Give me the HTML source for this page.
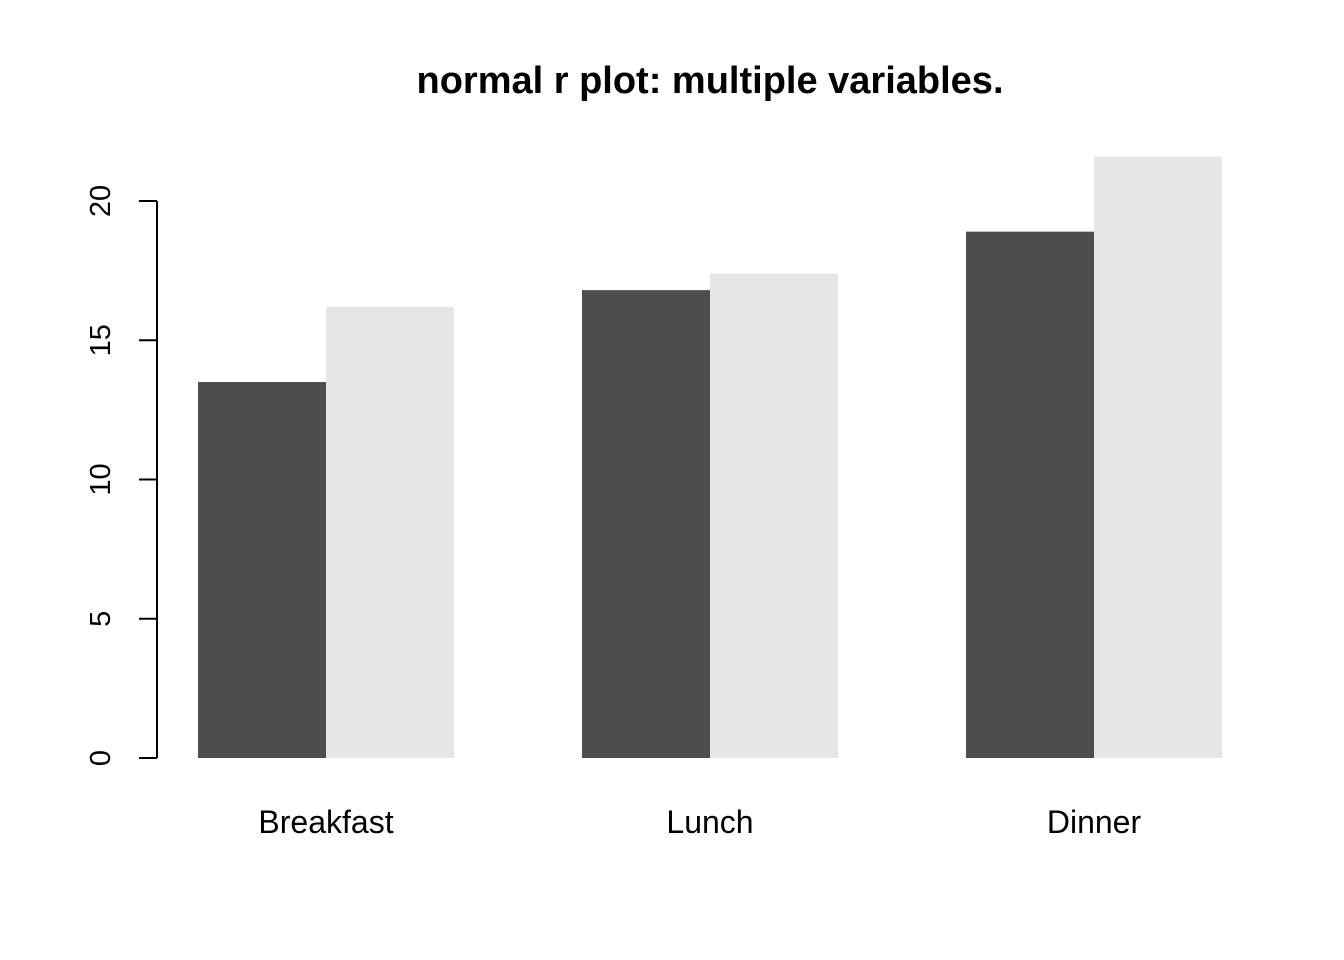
<!DOCTYPE html>
<html><head><meta charset="utf-8"><style>
html,body{margin:0;padding:0;background:#fff;}
svg{display:block;font-family:"Liberation Sans",Arial,sans-serif;}
</style></head><body>
<svg id="chart" width="1344" height="960" viewBox="0 0 1344 960">
<text x="710" y="93" text-anchor="middle" font-size="38" font-weight="bold">normal r plot: multiple variables.</text>
<g id="bars"></g>
<g id="yaxis"></g>
<g id="xlabels"></g>
</svg>
<script>
const categories = ["Breakfast", "Lunch", "Dinner"];
const seriesA = [13.5, 16.8, 18.9];
const seriesB = [16.2, 17.4, 21.6];
const yTicks = [0, 5, 10, 15, 20];
const colors = ["#4d4d4d", "#e6e6e6"];

const NS = "http://www.w3.org/2000/svg";
function yScale(v){ return 758 - v * 27.85; }
function xScale(u){ return 70 + u * 128; }
function mk(tag, attrs, parent){
  const el = document.createElementNS(NS, tag);
  for (const k in attrs) el.setAttribute(k, attrs[k]);
  parent.appendChild(el);
  return el;
}
const bars = document.getElementById("bars");
const xl = document.getElementById("xlabels");
categories.forEach((c, i) => {
  const start = 1 + i * 3;
  [seriesA, seriesB].forEach((s, j) => {
    const r = mk("rect", {x: xScale(start + j), y: yScale(s[i]), width: 128, height: yScale(0) - yScale(s[i]), fill: colors[j]}, bars);
    
    
  });
  const t = mk("text", {x: xScale(start + 1), y: 833, "text-anchor": "middle", "font-size": 32}, xl);
  t.textContent = c;
  
  
});
const ya = document.getElementById("yaxis");
const axisLine = mk("line", {x1: 157, x2: 157, y1: yScale(yTicks[0]), y2: yScale(yTicks[yTicks.length - 1]), stroke: "#000", "stroke-width": 2}, ya);


yTicks.forEach(v => {
  const y = yScale(v);
  const tk = mk("line", {x1: 139, x2: 157, y1: y, y2: y, stroke: "#000", "stroke-width": 2}, ya);
  
  
  const t = mk("text", {x: 0, y: 0, "text-anchor": "middle", "font-size": 29, transform: "translate(110," + y + ") rotate(-90)"}, ya);
  t.textContent = v;
  
  
});
</script>
</body></html>
